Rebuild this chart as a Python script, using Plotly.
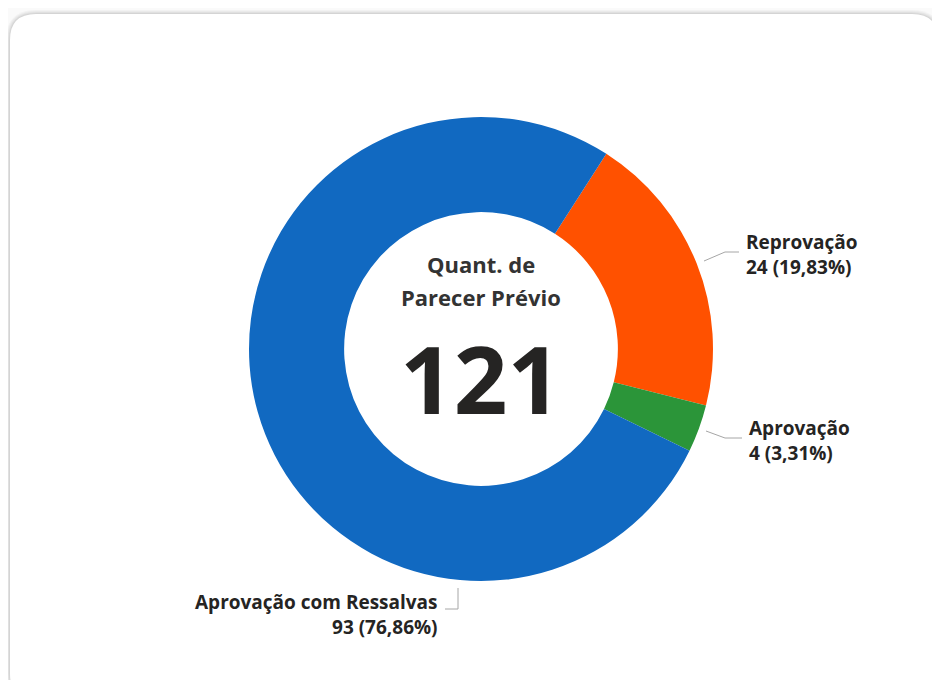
import plotly.graph_objects as go

# ---- data ----
categories = ["Reprovação", "Aprovação", "Aprovação com Ressalvas"]
values = [24, 4, 93]
colors = ["#FF5100", "#2B9539", "#1169C1"]
center_title_lines = ["Quant. de", "Parecer Prévio"]
total = sum(values)

W, H = 940, 680
OFF = 8  # page body margin of the html page
cx, cy, R = 481, 349, 232

fig = go.Figure()

# hidden axes in page pixel coordinates for decorations
fig.update_xaxes(range=[OFF, W + OFF], visible=False, fixedrange=True)
fig.update_yaxes(range=[H + OFF, OFF], visible=False, fixedrange=True)
fig.add_trace(go.Scatter(x=[OFF, W], y=[OFF, H], mode="markers", marker=dict(opacity=0),
                         hoverinfo="skip", showlegend=False))

px0 = cx - OFF
py0 = cy - OFF
fig.add_trace(go.Pie(
    labels=categories, values=values,
    marker=dict(colors=colors, line=dict(width=0)),
    hole=0.59, sort=False, direction="clockwise", rotation=32.7,
    textinfo="none", showlegend=False,
    domain=dict(x=[(px0 - R) / W, (px0 + R) / W], y=[1 - (py0 + R) / H, 1 - (py0 - R) / H]),
))

def rounded_rect(x0, y0, x1, y1, r):
    return (f"M{x0+r},{y0} L{x1-r},{y0} Q{x1},{y0} {x1},{y0+r} L{x1},{y1-r} "
            f"Q{x1},{y1} {x1-r},{y1} L{x0+r},{y1} Q{x0},{y1} {x0},{y1-r} "
            f"L{x0},{y0+r} Q{x0},{y0} {x0+r},{y0} Z")

shapes = []
for i, op in enumerate([0.03, 0.03, 0.04, 0.05]):
    d = 4 - i
    shapes.append(dict(type="path", xref="x", yref="y", layer="below",
                       path=rounded_rect(10 - d, 14 - d, 938 + d, 700 + d, 26 + d),
                       fillcolor=f"rgba(0,0,0,{op})", line=dict(width=0)))
shapes.append(dict(type="path", xref="x", yref="y", layer="below",
                   path=rounded_rect(10, 14, 938, 700, 26),
                   fillcolor="#ffffff", line=dict(width=0)))

# leader lines
lc = dict(color="#A6A6A6", width=1)
shapes.append(dict(type="path", xref="x", yref="y", path="M704,261 L725,252 L739,252", line=lc))
shapes.append(dict(type="path", xref="x", yref="y", path="M706,431 L725,438 L742,438", line=lc))
shapes.append(dict(type="path", xref="x", yref="y", path="M458,588 L458,609 L445,609", line=lc))

def fmt_pct(v):
    return f"{100 * v / total:.2f}".replace(".", ",") + "%"

FONT = "Open Sans, Noto Sans, sans-serif"
lab_font = dict(family=FONT, size=19, color="#252423")
annotations = [
    dict(x=744, y=254, text=f"<b>{categories[0]}</b><br><b>{values[0]} ({fmt_pct(values[0])})</b>",
         xanchor="left", yanchor="middle", align="left"),
    dict(x=747, y=440, text=f"<b>{categories[1]}</b><br><b>{values[1]} ({fmt_pct(values[1])})</b>",
         xanchor="left", yanchor="middle", align="left"),
    dict(x=440, y=614, text=f"<b>{categories[2]}</b><br><b>{values[2]} ({fmt_pct(values[2])})</b>",
         xanchor="right", yanchor="middle", align="right"),
]
for a in annotations:
    a.update(xref="x", yref="y", showarrow=False, font=lab_font)

for ty, line in zip([264, 297], center_title_lines):
    annotations.append(dict(x=cx, y=ty, xref="x", yref="y", showarrow=False,
                            text=f"<b>{line}</b>", align="center",
                            font=dict(family=FONT, size=22, color="#333333")))
annotations.append(dict(x=cx - 1, y=378, xref="x", yref="y", showarrow=False,
                        text=f"<b>{total}</b>", align="center",
                        font=dict(family=FONT, size=94, color="#252423")))

fig.update_layout(
    width=W, height=H, margin=dict(l=0, r=0, t=0, b=0),
    paper_bgcolor="#fafafa", plot_bgcolor="rgba(0,0,0,0)",
    shapes=shapes, annotations=annotations, showlegend=False,
)

fig.write_html("out.html")
